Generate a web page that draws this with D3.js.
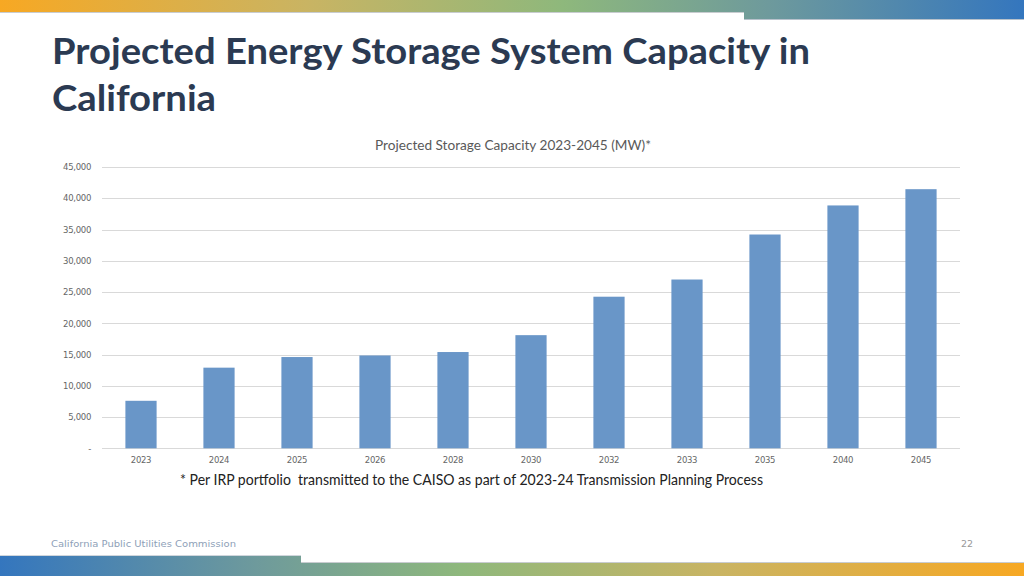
<!DOCTYPE html>
<html><head><meta charset="utf-8">
<script src="https://cdn.jsdelivr.net/npm/d3@7"></script>
<style>html,body{margin:0;padding:0;background:#fff;}svg{display:block;}</style>
</head><body>
<svg id="c" width="1024" height="576"></svg>
<script>
const years = ["2023","2024","2025","2026","2028","2030","2032","2033","2035","2040","2045"];
const capacityMW = [7600, 12900, 14600, 14850, 15400, 18100, 24250, 27000, 34200, 38850, 41450];
const yTicks = [0, 5000, 10000, 15000, 20000, 25000, 30000, 35000, 40000, 45000];
const titleLines = ["Projected Energy Storage System Capacity in", "California"];
const chartTitle = "Projected Storage Capacity 2023-2045 (MW)*";
const footnote = "* Per IRP portfolio  transmitted to the CAISO as part of 2023-24 Transmission Planning Process";
const footerLeft = "California Public Utilities Commission";
const pageNum = "22";

const svg = d3.select("#c");
const defs = svg.append("defs");
const g1 = defs.append("linearGradient").attr("id","gTop").attr("x1","0").attr("x2","1").attr("gradientUnits","userSpaceOnUse").attr("x1",0).attr("x2",1024).attr("y1",0).attr("y2",0);
[["0","#f7a823"],["0.3","#c9b463"],["0.55","#8eb87c"],["0.75","#6e9a9c"],["1","#3476be"]].forEach(s=>g1.append("stop").attr("offset",s[0]).attr("stop-color",s[1]));
const g2 = defs.append("linearGradient").attr("id","gBot").attr("gradientUnits","userSpaceOnUse").attr("x1",0).attr("x2",1024).attr("y1",0).attr("y2",0);
[["0","#3476be"],["0.25","#6e9a9c"],["0.45","#8eb87c"],["0.7","#c9b463"],["1","#f7a823"]].forEach(s=>g2.append("stop").attr("offset",s[0]).attr("stop-color",s[1]));

// top band
svg.append("rect").attr("x",0).attr("y",0).attr("width",1024).attr("height",12).attr("fill","url(#gTop)");
svg.append("rect").attr("x",744).attr("y",0).attr("width",280).attr("height",19).attr("fill","url(#gTop)");
svg.append("line").attr("x1",0).attr("x2",744).attr("y1",12.5).attr("y2",12.5).attr("stroke","#c8ccd0").attr("stroke-width",1);
svg.append("line").attr("x1",744).attr("x2",1024).attr("y1",19.5).attr("y2",19.5).attr("stroke","#b8c2cc").attr("stroke-width",1);
// bottom band
svg.append("rect").attr("x",0).attr("y",556).attr("width",301).attr("height",20).attr("fill","url(#gBot)");
svg.append("rect").attr("x",301).attr("y",563).attr("width",723).attr("height",13).attr("fill","url(#gBot)");
svg.append("line").attr("x1",301).attr("x2",1024).attr("y1",562.5).attr("y2",562.5).attr("stroke","#c8ccd0");
svg.append("line").attr("x1",0).attr("x2",301).attr("y1",555.5).attr("y2",555.5).attr("stroke","#d0d6dc");

// title
const tt = svg.append("g").attr("font-family","Lato, 'Noto Sans', sans-serif").attr("font-weight","bold").attr("fill","#2b3a52").attr("font-size",36);
tt.append("text").attr("x",52).attr("y",64).text(titleLines[0]).attr("textLength",758).attr("lengthAdjust","spacingAndGlyphs");
tt.append("text").attr("x",52).attr("y",111).text(titleLines[1]).attr("textLength",164).attr("lengthAdjust","spacingAndGlyphs");

// chart
const x = d3.scaleBand().domain(years).range([102, 960]).paddingInner(0.6).paddingOuter(0.3);
const y = d3.scaleLinear().domain([0, 45000]).range([448.3, 167]);

svg.append("text").attr("x",513).attr("y",150).attr("text-anchor","middle")
  .attr("font-family","Lato, 'Noto Sans', sans-serif").attr("font-size",13.5).attr("fill","#595959")
  .attr("textLength",276).attr("lengthAdjust","spacingAndGlyphs").text(chartTitle);

const grid = svg.append("g");
grid.selectAll("line").data(yTicks).join("line")
  .attr("x1",102).attr("x2",960).attr("y1",d=>Math.round(y(d))+0.5).attr("y2",d=>Math.round(y(d))+0.5)
  .attr("stroke","#d9d9d9").attr("stroke-width",1);

const yAxis = d3.axisLeft(y).tickValues(yTicks).tickSize(0).tickPadding(0)
  .tickFormat(d => d === 0 ? "-" : d3.format(",")(d));
const ya = svg.append("g").attr("transform","translate(91,0)").call(yAxis);
ya.select(".domain").remove();
ya.selectAll("text").attr("font-family","'DejaVu Sans', sans-serif").attr("font-size",8.5).attr("fill","#666").attr("letter-spacing","-0.3");

svg.append("g").selectAll("rect").data(years).join("rect")
  .attr("x",d=>x(d)).attr("width",x.bandwidth())
  .attr("y",(d,i)=>y(capacityMW[i])).attr("height",(d,i)=>y(0)-y(capacityMW[i]))
  .attr("fill","#6996c8");

const xAxis = d3.axisBottom(x).tickSize(0).tickPadding(0);
const xa = svg.append("g").attr("transform","translate(0,457)").call(xAxis);
xa.select(".domain").remove();
xa.selectAll("text").attr("font-family","'DejaVu Sans', sans-serif").attr("font-size",8.5).attr("fill","#666").attr("dy","0.71em").attr("letter-spacing","-0.3");

svg.append("text").attr("x",180).attr("y",485).attr("font-family","Lato, 'Noto Sans', sans-serif")
  .attr("font-size",15).attr("fill","#222").attr("textLength",583).attr("lengthAdjust","spacingAndGlyphs").attr("xml:space","preserve").style("white-space","pre").text(footnote);

svg.append("text").attr("x",51).attr("y",547).attr("font-family","'DejaVu Sans', sans-serif").attr("font-size",9.5)
  .attr("fill","#8e9fb8").attr("textLength",185).attr("lengthAdjust","spacingAndGlyphs").text(footerLeft);
svg.append("text").attr("x",973).attr("y",547).attr("text-anchor","end").attr("font-family","'DejaVu Sans', sans-serif").attr("font-size",9.5)
  .attr("fill","#999").text(pageNum);
</script>
</body></html>
